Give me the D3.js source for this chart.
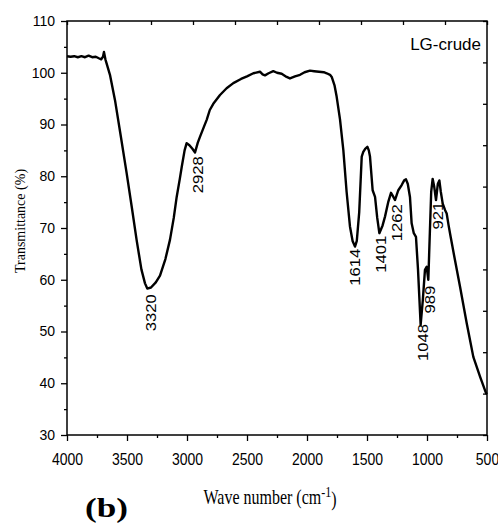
<!DOCTYPE html>
<html>
<head>
<meta charset="utf-8">
<title>LG-crude FTIR</title>
<script src="https://cdn.jsdelivr.net/npm/d3@7"></script>
<style>
    body { margin: 0; background: #fff; }
    .sans { font-family: "Liberation Sans", Arial, sans-serif; }
    .serif { font-family: "Liberation Serif", "Times New Roman", serif; }
</style>
</head>
<body>
<svg width="498" height="527"></svg>
<script>
    // spectrum (wave number in cm-1, transmittance in %)
    var wavenumber = [
        4000, 3970, 3940, 3910, 3880, 3850, 3820, 3790, 3760, 3735, 3715, 3700, 3692, 3680,
        3642, 3600, 3550, 3503, 3460, 3420, 3380, 3350, 3331, 3300, 3260, 3225, 3180, 3142,
        3110, 3086, 3060, 3044, 3020, 3003, 2980, 2955, 2933, 2910, 2892, 2860, 2836, 2810,
        2781, 2725, 2670, 2614, 2550, 2500, 2447, 2392, 2370, 2350, 2320, 2281, 2250, 2211,
        2170, 2142, 2100, 2058, 2020, 1975, 1940, 1900, 1860, 1836, 1808, 1794, 1770, 1753,
        1725, 1697, 1670, 1642, 1620, 1600, 1585, 1565, 1544, 1531, 1515, 1497, 1485, 1475,
        1453, 1433, 1415, 1397, 1370, 1350, 1322, 1300, 1285, 1267, 1239, 1211, 1190, 1175,
        1160, 1142, 1128, 1110, 1092, 1075, 1053, 1035, 1017, 1003, 989, 975, 965, 953,
        940, 925, 910, 897, 885, 869, 850, 836, 820, 803, 767, 725, 669, 614,
        558, 508, 500
    ];
    var transmittance = [
        103.2, 103.1, 103.2, 103.0, 103.2, 103.0, 103.3, 103.0, 103.1, 102.8, 102.6, 103.1, 104.0, 102.6,
        99.6, 94.7, 87.5, 80.6, 74.0, 67.7, 62.0, 59.3, 58.3, 58.5, 59.5, 60.8, 64.0, 67.7,
        72.0, 76.0, 79.5, 81.8, 85.0, 86.4, 86.0, 85.3, 84.6, 86.5, 87.6, 89.5, 90.9, 92.8,
        94.0, 95.7, 97.0, 98.0, 98.8, 99.3, 99.9, 100.2, 99.7, 99.5, 99.9, 100.3, 100.0, 99.8,
        99.2, 98.9, 99.3, 99.6, 100.1, 100.4, 100.3, 100.2, 100.1, 99.9, 99.6, 99.2, 97.5, 95.4,
        91.0, 85.0, 77.0, 70.3, 67.5, 66.4, 67.5, 73.0, 83.8, 84.7, 85.3, 85.7, 85.0, 83.8,
        77.3, 76.0, 72.0, 69.0, 70.5, 72.2, 75.1, 76.8, 76.2, 75.4, 77.3, 78.3, 79.2, 79.4,
        78.5, 76.0, 70.9, 69.0, 68.3, 62.0, 51.3, 56.0, 61.9, 62.5, 60.0, 70.0, 77.0, 79.5,
        78.0, 75.4, 78.5, 79.2, 77.0, 74.7, 73.5, 72.8, 70.5, 68.3, 63.8, 58.7, 51.6, 45.1,
        41.3, 38.1, 37.9
    ];
    var peakLabels = ["3320", "2928", "1614", "1401", "1262", "1048", "989", "921"];
    var xTicks = [4000, 3500, 3000, 2500, 2000, 1500, 1000, 500];
    var yTicks = [30, 40, 50, 60, 70, 80, 90, 100, 110];

    var svg = d3.select("svg");

    var x = d3.scaleLinear().domain([4000, 500]).range([67, 487]);
    var y = d3.scaleLinear().domain([30, 110]).range([435, 21]);

    // transmittance at a given wave number (linear between read points)
    function valueAt(w) {
        for (var i = 1; i < wavenumber.length; i++) {
            if (wavenumber[i] <= w) {
                var t = (wavenumber[i - 1] - w) / (wavenumber[i - 1] - wavenumber[i]);
                return transmittance[i - 1] + t * (transmittance[i] - transmittance[i - 1]);
            }
        }
        return transmittance[transmittance.length - 1];
    }

    // bottom axis, major + minor ticks outside
    var xAxis = svg.append("g").attr("class", "sans").attr("transform", "translate(0,435)")
        .call(d3.axisBottom(x).tickValues(xTicks).tickSize(6).tickFormat(d3.format("d")));
    svg.append("g").attr("transform", "translate(0,435)")
        .call(d3.axisBottom(x).tickValues(d3.range(3750, 500, -500)).tickSize(3).tickFormat(""));
    xAxis.selectAll("text")
        .attr("y", null).attr("dy", null)
        .attr("transform", "translate(0,30) scale(1,1.2)")
        .style("font-size", "14px").style("fill", "#000");

    // left axis
    var yAxis = svg.append("g").attr("class", "sans").attr("transform", "translate(67,0)")
        .call(d3.axisLeft(y).tickValues(yTicks).tickSize(6).tickPadding(6));
    svg.append("g").attr("transform", "translate(67,0)")
        .call(d3.axisLeft(y).tickValues(d3.range(35, 110, 10)).tickSize(3).tickFormat(""));
    yAxis.selectAll("text").style("font-size", "14px").style("fill", "#000");

    // top and right axes only carry small inside ticks
    var xTop = d3.scaleLinear().domain([0, 10]).range([67, 487]);
    var yRight = d3.scaleLinear().domain([0, 10]).range([435, 21]);
    svg.append("g").attr("transform", "translate(0,21)")
        .call(d3.axisTop(xTop).ticks(10).tickSize(-4).tickFormat(""));
    svg.append("g").attr("transform", "translate(487,0)")
        .call(d3.axisRight(yRight).ticks(10).tickSize(-4).tickFormat(""));

    svg.selectAll(".domain").remove();
    svg.selectAll(".tick line").attr("stroke", "#000").attr("stroke-width", 1.3);

    svg.append("rect")
        .attr("x", 67).attr("y", 21).attr("width", 420).attr("height", 414)
        .attr("fill", "none").attr("stroke", "#000").attr("stroke-width", 1.5);

    // spectrum
    var line = d3.line()
        .x(function (d, i) { return x(wavenumber[i]); })
        .y(function (d) { return y(d); });
    svg.append("path")
        .datum(transmittance)
        .attr("d", line)
        .attr("fill", "none")
        .attr("stroke", "#000")
        .attr("stroke-width", 2.4)
        .attr("stroke-linejoin", "round");

    // peak labels, rotated, just under each band
    svg.selectAll(".peak")
        .data(peakLabels)
        .enter().append("text")
        .attr("class", "peak sans")
        .attr("transform", function (d) {
            return "translate(" + (x(+d) + 2) + "," + (y(valueAt(+d)) + 6) + ") rotate(-90) scale(1.19,1)";
        })
        .attr("text-anchor", "end")
        .attr("dy", "0.35em")
        .style("font-size", "14px")
        .text(function (d) { return d; });

    svg.append("text")
        .attr("class", "sans")
        .attr("x", 481).attr("y", 50)
        .attr("text-anchor", "end")
        .style("font-size", "17px")
        .text("LG-crude");

    // axis titles
    svg.append("text")
        .attr("class", "serif")
        .attr("transform", "translate(25,221) rotate(-90)")
        .attr("text-anchor", "middle")
        .style("font-size", "14px")
        .text("Transmittance (%)");

    var xt = svg.append("text")
        .attr("class", "serif")
        .attr("transform", "translate(270,504) scale(1,1.3)")
        .attr("text-anchor", "middle")
        .style("font-size", "16px");
    xt.append("tspan").text("Wave number (cm");
    xt.append("tspan").attr("dy", "-0.45em").style("font-size", "12px").text("-1");
    xt.append("tspan").attr("dy", "0.45em").text(")");

    svg.append("text")
        .attr("class", "serif")
        .attr("x", 85).attr("y", 517)
        .attr("textLength", 43).attr("lengthAdjust", "spacingAndGlyphs")
        .style("font-size", "27px").style("font-weight", "bold")
        .text("(b)");
</script>
</body>
</html>
